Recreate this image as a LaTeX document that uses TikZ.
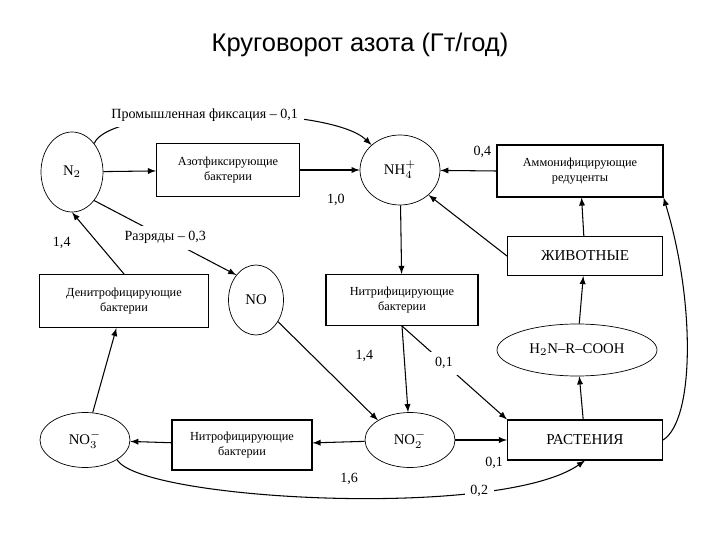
\documentclass[tikz,border=0pt]{standalone}
\usepackage{fontspec}
\setmainfont{Liberation Serif}
\newfontfamily\titlefont{Liberation Sans}
\usetikzlibrary{shapes.geometric}
\newcommand{\px}{0.02cm}
\begin{document}
\begin{tikzpicture}[x=0.02cm,y=-0.02cm,
    box/.style={draw=black,semithick,align=center,inner sep=0pt,font=\fontsize{7}{8.2}\selectfont},
    oval/.style={shape=ellipse,draw=black,inner sep=0pt,font=\fontsize{8.4}{9}\selectfont},
    num/.style={font=\fontsize{8}{9}\selectfont},
    arr/.style={->,>=latex,semithick}]
    \useasboundingbox (0,0) rectangle (720,540);
    \node[font=\titlefont\fontsize{14.5}{16}\selectfont] (T) at (360,45) {Круговорот азота (Гт/год)};

    \node[oval,minimum width=62*\px,minimum height=80*\px] (N2) at (72,172) {N$_2$};
    \node[box,minimum width=143*\px,minimum height=53*\px] (AF) at (228,170) {Азотфиксирующие\\бактерии};
    \node[oval,minimum width=80*\px,minimum height=70*\px] (NH4) at (400,170) {NH$_4^+$};
    \node[box,minimum width=166*\px,minimum height=52*\px] (AM) at (580,171) {Аммонифицирующие\\редуценты};
    \node[box,minimum width=155*\px,minimum height=39*\px,font=\fontsize{8.6}{9}\selectfont] (ZH) at (585,256) {ЖИВОТНЫЕ};

    \node[box,minimum width=169*\px,minimum height=53*\px] (DN) at (124,301) {Денитрофицирующие\\бактерии};
    \node[oval,minimum width=55*\px,minimum height=70*\px] (NO) at (256,300) {NO};
    \node[box,minimum width=152*\px,minimum height=51*\px] (NI) at (402,300) {Нитрифицирующие\\бактерии};
    \node[oval,minimum width=160*\px,minimum height=52*\px] (AA) at (577,350) {H$_2$N--R--COOH};

    \node[oval,minimum width=90*\px,minimum height=55*\px] (NO3) at (85,440) {NO$_3^-$};
    \node[box,minimum width=140*\px,minimum height=50*\px] (NF) at (242,445) {Нитрофицирующие\\бактерии};
    \node[oval,minimum width=90*\px,minimum height=55*\px] (NO2) at (410,440) {NO$_2^-$};
    \node[box,minimum width=155*\px,minimum height=40*\px,font=\fontsize{8.6}{9}\selectfont] (PL) at (585,440) {РАСТЕНИЯ};

    \draw[arr] (N2.north east) .. controls (110,105) and (330,105) .. (NH4.north west)
        node[pos=0.45,fill=white,num] {Промышленная фиксация -- 0,1};
    \draw[arr] (N2) -- (AF);
    \draw[arr] (AF) -- (NH4) node[num,pos=0.6,below=10pt] {1,0};
    \draw[arr] (N2.south east) -- (NO.north west) node[pos=0.5,fill=white,num] {Разряды -- 0,3};
    \draw[arr] (DN.north) -- (N2.south) node[num,pos=0.5,left=12pt] {1,4};
    \draw[arr] (AM.west) -- (NH4) node[num,pos=0.25,above=4pt] {0,4};
    \draw[arr] (ZH.west) -- (NH4.south east);
    \draw[arr] (ZH) -- (AM);
    \draw[arr] (AA) -- (ZH);
    \draw[arr] (PL) -- (AA);
    \draw[arr] (PL.east) .. controls (695,420) and (695,300) .. (AM.south east);
    \draw[arr] (NH4) -- (NI);
    \draw[arr] (NI.south) -- (NO2) node[num,pos=0.35,left=14pt] {1,4};
    \draw[arr] (NI.south) -- (PL.north west) node[pos=0.4,fill=white,num] {0,1};
    \draw[arr] (NO) -- (NO2.north west);
    \draw[arr] (NO2) -- (NF) node[num,pos=0.3,below=14pt] {1,6};
    \draw[arr] (NF) -- (NO3);
    \draw[arr] (NO3) -- (DN);
    \draw[arr] (NO2) -- (PL.west) node[num,pos=0.75,below=6pt] {0,1};
    \draw[arr] (NO3.south east) .. controls (140,500) and (500,520) .. (PL.south)
        node[pos=0.75,fill=white,num] {0,2};
\end{tikzpicture}
\end{document}
